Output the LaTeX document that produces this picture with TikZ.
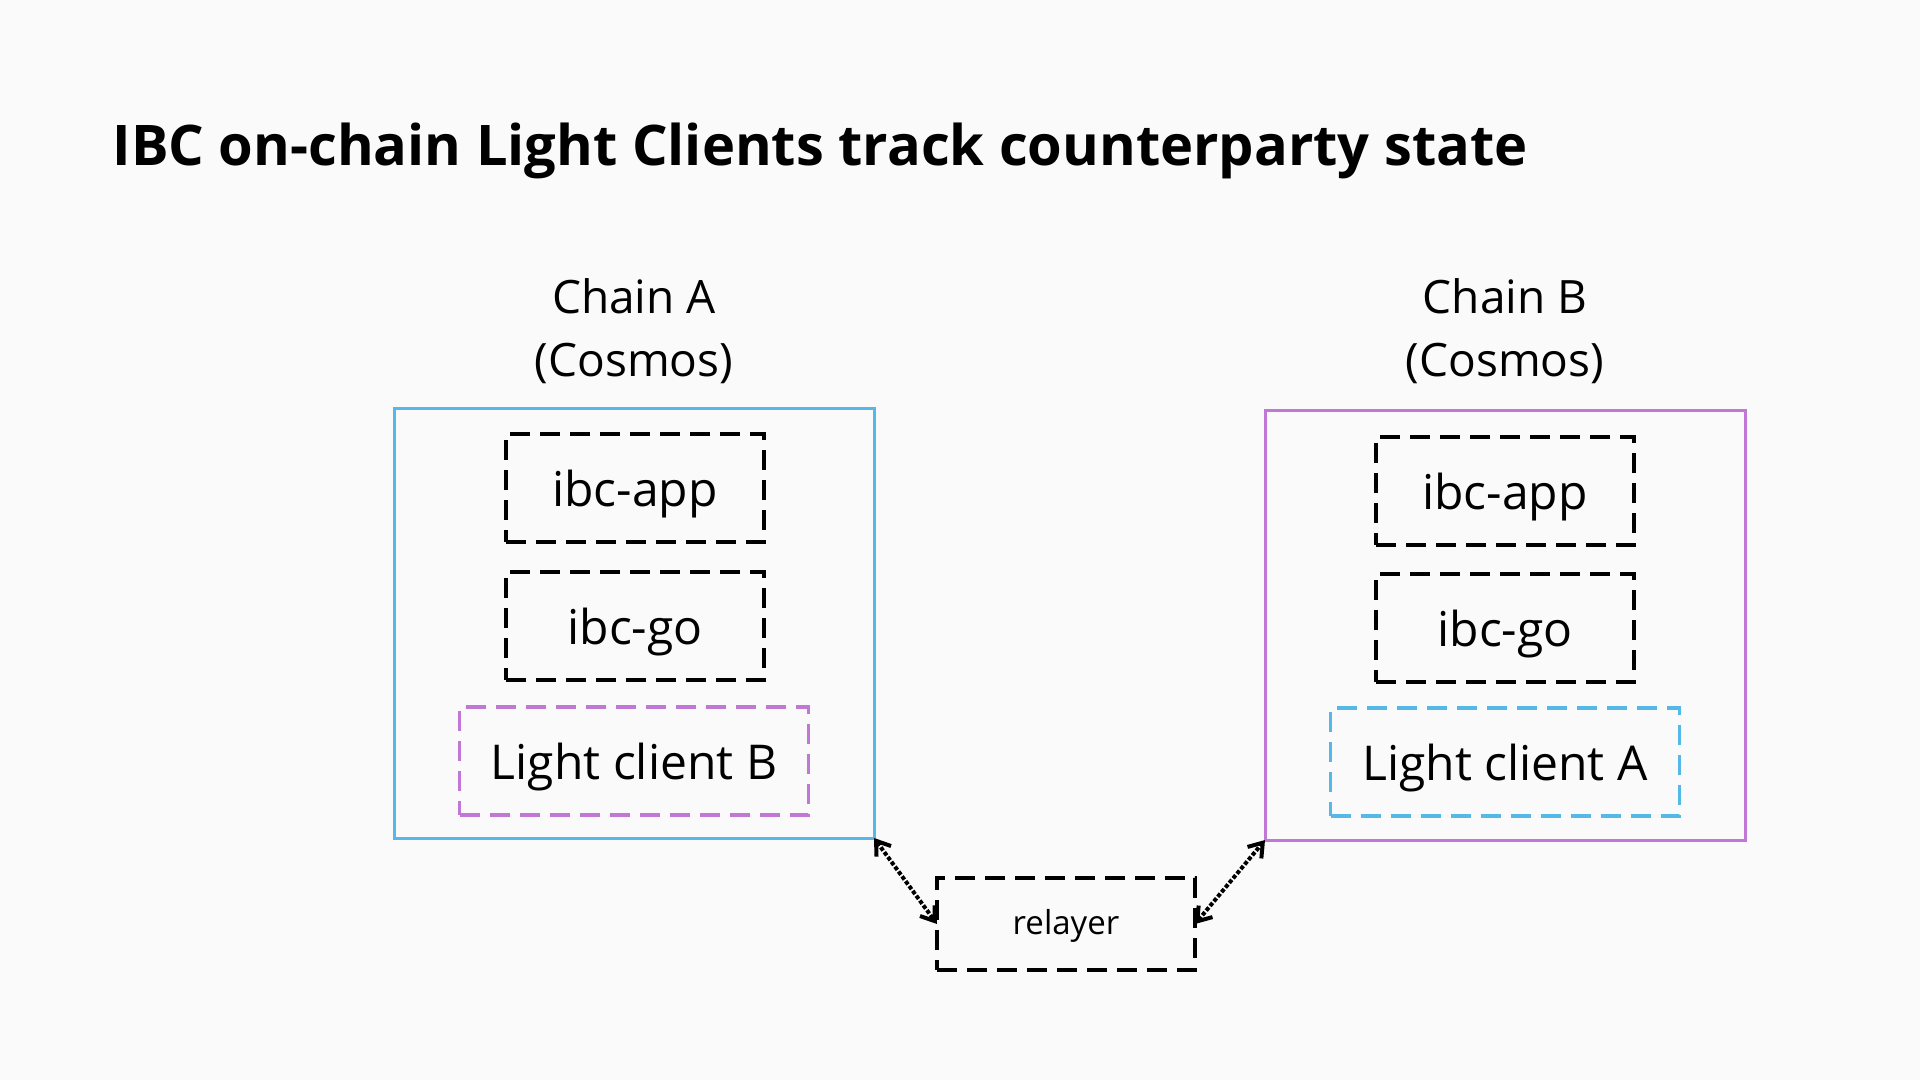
\documentclass[tikz,border=0pt]{standalone}
\usepackage{fontspec}
\setmainfont{Open Sans}
\usetikzlibrary{arrows.meta}
\definecolor{bgcol}{HTML}{FAFAFA}
\definecolor{chainblue}{HTML}{55B8E6}
\definecolor{chainpurple}{HTML}{C077D6}
\begin{document}
\begin{tikzpicture}[x=1pt,y=-1pt,
  chainbox/.style={draw,line width=3pt,minimum width=480pt,minimum height=430pt,inner sep=0pt,outer sep=0pt},
  module/.style={draw,line width=4pt,dash pattern=on 20pt off 10pt,minimum width=258pt,minimum height=108pt,inner sep=0pt,outer sep=0pt,text height=38pt,text depth=2pt,font=\fontsize{48}{56}\selectfont},
  client/.style={module,line width=3.5pt,minimum width=349pt},
  label/.style={align=center,font=\fontsize{46}{63}\selectfont},
  link/.style={line width=4pt,dotted,{Straight Barb[length=13pt,width=18pt,line width=4pt]}-{Straight Barb[length=13pt,width=18pt,line width=4pt]}}]
\fill[bgcol] (0,0) rectangle (1920,1080);
\node[anchor=base west,font=\fontsize{56}{68}\bfseries\selectfont] (title) at (109,165) {IBC on-chain Light Clients track counterparty state};
% chain A
\node[label] (labA) at (634,331) {Chain A\\(Cosmos)};
\node[chainbox,chainblue] (chainA) at (634,623) {};
\node[module] (appA) at (635,488) {ibc-app};
\node[module] (goA) at (635,626) {ibc-go};
\node[client,chainpurple,text=black] (lcB) at (634,761) {Light client B};
% chain B
\node[label] (labB) at (1505,331) {Chain B\\(Cosmos)};
\node[chainbox,chainpurple] (chainB) at (1505,625) {};
\node[module] (appB) at (1505,491) {ibc-app};
\node[module] (goB) at (1505,628) {ibc-go};
\node[client,chainblue,text=black] (lcA) at (1505,762) {Light client A};
% relayer
\node[module,minimum height=92pt,text height=22pt,text depth=2pt,font=\fontsize{33}{40}\selectfont] (relayer) at (1066,924) {relayer};
\draw[link] (chainA.south east) -- (relayer.west);
\draw[link] (relayer.east) -- (chainB.south west);
\end{tikzpicture}
\end{document}
